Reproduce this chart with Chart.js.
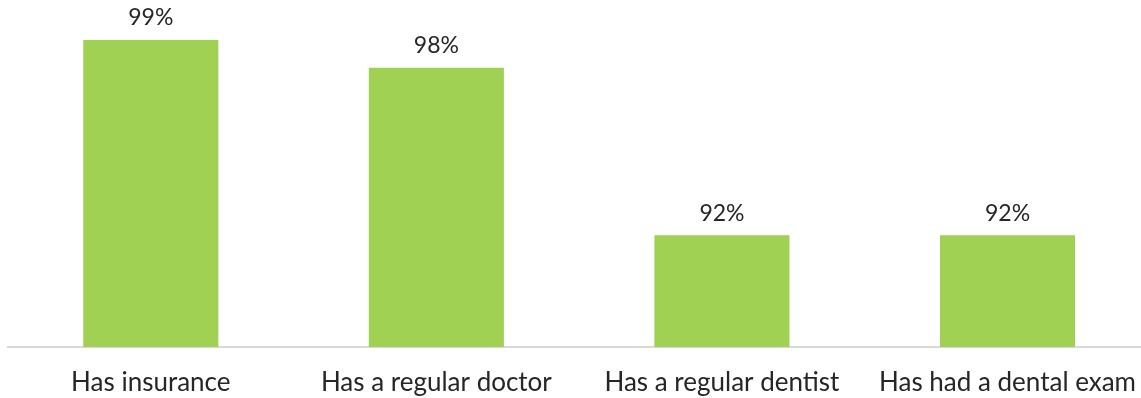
<!DOCTYPE html>
<html><head><meta charset="utf-8">
<script src="https://cdn.jsdelivr.net/npm/chart.js@4"></script>
<style>
html,body{margin:0;padding:0;background:#fff;overflow:hidden;}
#wrap{position:relative;width:1156px;height:398px;}
</style></head>
<body><div id="wrap"><canvas id="c"></canvas></div>
<script>
const categories = ["Has insurance", "Has a regular doctor", "Has a regular dentist", "Has had a dental exam"];
const values = [99, 98, 92, 92];
const barColor = "#a0d152";

const labelPlugin = {
  id: 'barLabels',
  afterDatasetsDraw(chart) {
    const ctx = chart.ctx;
    const meta = chart.getDatasetMeta(0);
    ctx.save();
    ctx.font = '23px Lato';
    ctx.fillStyle = '#262626';
    ctx.textAlign = 'center';
    ctx.textBaseline = 'middle';
    meta.data.forEach((bar, i) => {
      ctx.fillText(values[i] + '%', bar.x, bar.y - 22);
    });
    ctx.restore();
  }
};

new Chart(document.getElementById('c'), {
  type: 'bar',
  data: { labels: categories, datasets: [{ data: values, backgroundColor: barColor, barPercentage: 0.473, categoryPercentage: 1 }] },
  options: {
    responsive: true, maintainAspectRatio: false, animation: false,
    layout: { padding: { left: 8, right: 0, top: 12, bottom: 0 } },
    plugins: { legend: { display: false }, tooltip: { enabled: false } },
    scales: {
      x: {
        afterFit(scale) { scale.height = 51; },
        grid: { display: false, drawTicks: false },
        border: { color: '#d9d9d9', width: 2 },
        ticks: { font: { family: 'Lato', size: 26 }, color: '#262626', padding: 20 }
      },
      y: { display: false, min: 88, max: 100 }
    }
  },
  plugins: [labelPlugin]
});
</script></body></html>
